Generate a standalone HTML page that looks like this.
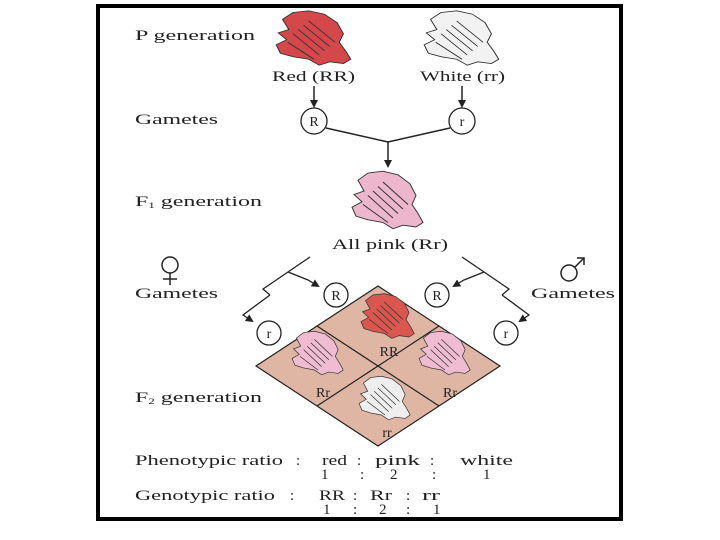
<!DOCTYPE html>
<html><head><style>
html,body{margin:0;padding:0;background:#fff;}
svg{display:block;}
text{font-family:"Liberation Serif",serif;fill:#222;}
</style></head><body>
<svg width="720" height="540" viewBox="0 0 720 540" xmlns="http://www.w3.org/2000/svg">
<defs>
<marker id="ah" markerWidth="8" markerHeight="8" refX="6" refY="4" orient="auto" markerUnits="userSpaceOnUse">
<path d="M0,0 L8,4 L0,8 z" fill="#222"/></marker>
<g id="fl">
<path d="M-30,-22 L-20,-30 L-5,-32 L10,-28 L22,-18 L28,-5 L24,5 L30,15 L35,25 L28,30 L15,28 L5,32 L-5,25 L-20,22 L-32,18 L-36,8 L-26,2 L-34,-6 L-24,-10 z" stroke="#333" stroke-width="1"/>
<path d="M-15,-10 L10,15 M-10,-15 L15,10 M-5,-20 L20,5 M-20,-5 L5,20 M-25,5 L0,25" stroke="#333" stroke-width="1" fill="none"/>
</g>
</defs>
<rect x="98" y="6" width="523" height="513" fill="#fff" stroke="#000" stroke-width="4"/>
<g font-size="15" lengthAdjust="spacingAndGlyphs">
<text x="135" y="40" textLength="120" lengthAdjust="spacingAndGlyphs">P generation</text>
<text x="135" y="124" textLength="83" lengthAdjust="spacingAndGlyphs">Gametes</text>
<text x="135" y="206" textLength="127" lengthAdjust="spacingAndGlyphs">F<tspan font-size="8" dy="2">1</tspan><tspan dy="-2"> generation</tspan></text>
<text x="332" y="249" textLength="116" lengthAdjust="spacingAndGlyphs">All pink (Rr)</text>
<text x="272" y="81" textLength="83" lengthAdjust="spacingAndGlyphs">Red (RR)</text>
<text x="420" y="81" textLength="85" lengthAdjust="spacingAndGlyphs">White (rr)</text>
<text x="135" y="298" textLength="83" lengthAdjust="spacingAndGlyphs">Gametes</text>
<text x="531" y="298" textLength="84" lengthAdjust="spacingAndGlyphs">Gametes</text>
<text x="135" y="402" textLength="127" lengthAdjust="spacingAndGlyphs">F<tspan font-size="8" dy="2">2</tspan><tspan dy="-2"> generation</tspan></text>
<text x="135" y="465" textLength="148" lengthAdjust="spacingAndGlyphs">Phenotypic ratio</text>
<text x="296" y="465">:</text>
<text x="322" y="465" textLength="25" lengthAdjust="spacingAndGlyphs">red</text>
<text x="357" y="465">:</text>
<text x="375" y="465" textLength="45" lengthAdjust="spacingAndGlyphs">pink</text>
<text x="430" y="465">:</text>
<text x="460" y="465" textLength="53" lengthAdjust="spacingAndGlyphs">white</text>
<text x="321" y="479">1</text><text x="360" y="479">:</text><text x="390" y="479">2</text><text x="432" y="479">:</text><text x="483" y="479">1</text>
<text x="135" y="500" textLength="140" lengthAdjust="spacingAndGlyphs">Genotypic ratio</text>
<text x="290" y="500">:</text>
<text x="319" y="500" textLength="26" lengthAdjust="spacingAndGlyphs">RR</text>
<text x="353" y="500">:</text>
<text x="370" y="500" textLength="22" lengthAdjust="spacingAndGlyphs">Rr</text>
<text x="406" y="500">:</text>
<text x="422" y="500" textLength="18" lengthAdjust="spacingAndGlyphs">rr</text>
<text x="323" y="514">1</text><text x="353" y="514">:</text><text x="379" y="514">2</text><text x="406" y="514">:</text><text x="433" y="514">1</text>
</g>
<!-- flowers -->
<use href="#fl" transform="translate(314,38) scale(1.05,0.85)" fill="#d4474a"/>
<use href="#fl" transform="translate(462,38) scale(1.05,0.85)" fill="#f2f2f2"/>
<use href="#fl" transform="translate(388,200) scale(1,0.9)" fill="#ecb6cc"/>
<!-- top connectors -->
<g stroke="#222" stroke-width="1.5" fill="none">
<line x1="314" y1="86" x2="314" y2="106" marker-end="url(#ah)"/>
<line x1="462" y1="86" x2="462" y2="106" marker-end="url(#ah)"/>
<polyline points="326,128 388,142 450,128"/>
<line x1="388" y1="142" x2="388" y2="166" marker-end="url(#ah)"/>
</g>
<g stroke="#222" stroke-width="1.3" fill="none">
<circle cx="314" cy="121" r="13"/><circle cx="462" cy="121" r="13"/>
<circle cx="336" cy="295" r="12"/><circle cx="437" cy="295" r="12"/>
<circle cx="269" cy="333" r="12"/><circle cx="506" cy="333" r="12"/>
</g>
<g font-size="14" text-anchor="middle">
<text x="314" y="126">R</text><text x="462" y="126">r</text>
<text x="336" y="300">R</text><text x="437" y="300">R</text>
<text x="269" y="338">r</text><text x="506" y="338">r</text>
</g>
<!-- lower connectors -->
<g stroke="#222" stroke-width="1.3" fill="none">
<polyline points="310,257 263,289 270,295"/>
<polyline points="270,295 243,315 252,321" marker-end="url(#ah)"/>
<polyline points="288,272 308,280 318,286" marker-end="url(#ah)"/>
<polyline points="462,257 509,289 502,295"/>
<polyline points="502,295 529,315 520,321" marker-end="url(#ah)"/>
<polyline points="484,272 464,280 454,286" marker-end="url(#ah)"/>
</g>
<!-- symbols -->
<g stroke="#222" stroke-width="1.5" fill="none">
<circle cx="170" cy="265" r="8"/><line x1="170" y1="273" x2="170" y2="285"/><line x1="163" y1="279" x2="177" y2="279"/>
<circle cx="569" cy="273" r="8"/><line x1="575" y1="267" x2="584" y2="258"/><polyline points="577,258 584,258 584,265"/>
</g>
<!-- diamond -->
<g stroke="#222" stroke-width="1.2">
<polygon points="378,286 500,366 378,446 256,366" fill="#dfb5a4"/>
<line x1="317" y1="326" x2="439" y2="406"/>
<line x1="439" y1="326" x2="317" y2="406"/>
</g>
<use href="#fl" transform="translate(388,316) scale(0.75,0.7)" fill="#d9574e"/>
<use href="#fl" transform="translate(318,353) scale(0.72,0.68)" fill="#efbcd2"/>
<use href="#fl" transform="translate(445,353) scale(0.72,0.68)" fill="#efbcd2"/>
<use href="#fl" transform="translate(385,398) scale(0.72,0.68)" fill="#eeeeee"/>
<g font-size="14" text-anchor="middle">
<text x="389" y="356">RR</text>
<text x="323" y="397">Rr</text>
<text x="450" y="397">Rr</text>
<text x="387" y="437">rr</text>
</g>
</svg>
</body></html>
